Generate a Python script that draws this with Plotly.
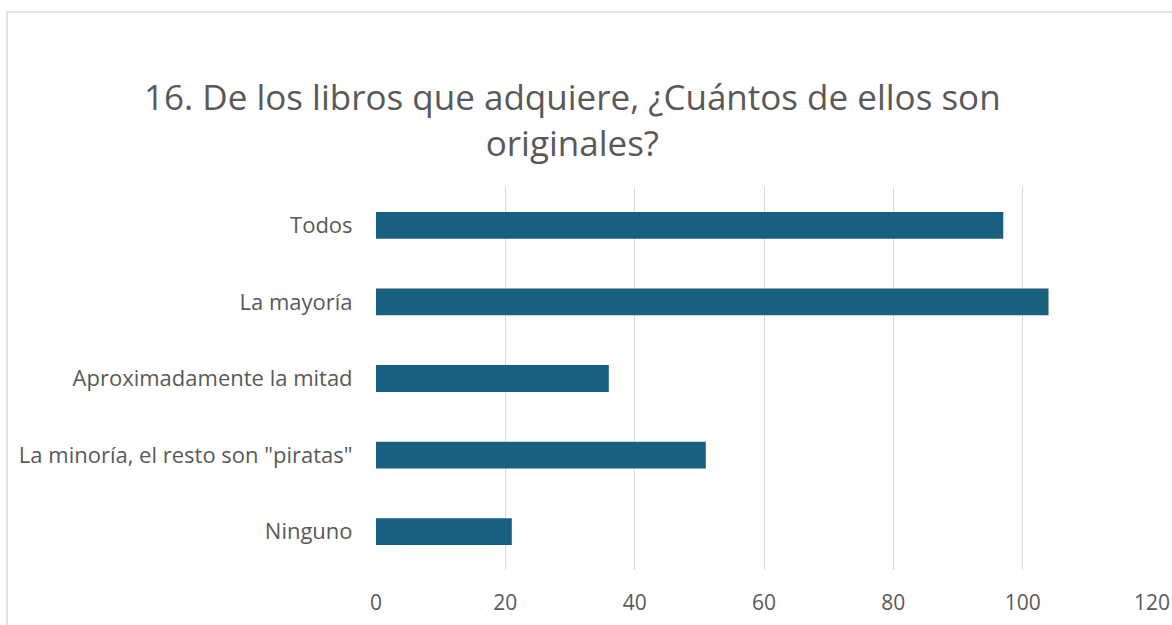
import plotly.graph_objects as go

categories = ["Todos", "La mayoría", "Aproximadamente la mitad", "La minoría, el resto son \"piratas\"", "Ninguno"]
values = [97, 104, 36, 51, 21]
x_ticks = [0, 20, 40, 60, 80, 100, 120]
title_text = "16. De los libros que adquiere, ¿Cuántos de ellos son<br>originales?"

W, H = 1172, 625
L, R, T, B = 376, 20, 187, 55
pw, ph = W - L - R, H - T - B

fig = go.Figure(go.Bar(
    y=categories, x=values, orientation="h",
    marker=dict(color="#185f80", line=dict(width=0)),
))

fig.update_layout(
    width=W, height=H,
    margin=dict(l=L, r=R, t=T, b=B),
    paper_bgcolor="white", plot_bgcolor="white",
    font=dict(family="Open Sans", color="#595959"),
    bargap=0.65,
    showlegend=False,
    xaxis=dict(range=[0, 120], tickvals=x_ticks, showgrid=True, gridcolor="#d9d9d9", gridwidth=1.3,
               zeroline=False, showline=False, tickfont=dict(size=21, color="#595959"),
               ticks="outside", ticklen=14, tickcolor="rgba(0,0,0,0)", automargin=False),
    yaxis=dict(autorange="reversed", showgrid=False, zeroline=False, showline=False,
               tickfont=dict(size=22, color="#595959"), automargin=False,
               ticks="outside", ticklen=18, tickcolor="rgba(0,0,0,0)"),
)

fig.add_annotation(text=title_text, xref="paper", yref="paper",
                   x=(572 - L) / pw, y=1 + (T - 120) / ph, xanchor="center", yanchor="middle",
                   showarrow=False, font=dict(size=35, color="#595959", family="Open Sans"),
                   align="center")

fig.add_shape(type="rect", xref="paper", yref="paper",
              x0=(7 - L) / pw, x1=(1200 - L) / pw,
              y0=-(60 + B) / ph, y1=1 + (T - 12) / ph,
              line=dict(color="#d9d9d9", width=1.5), fillcolor="rgba(0,0,0,0)", layer="below")

fig.write_html("out.html", config={"displayModeBar": False},
               post_script="document.body.style.margin='0';document.body.style.overflow='hidden';")
